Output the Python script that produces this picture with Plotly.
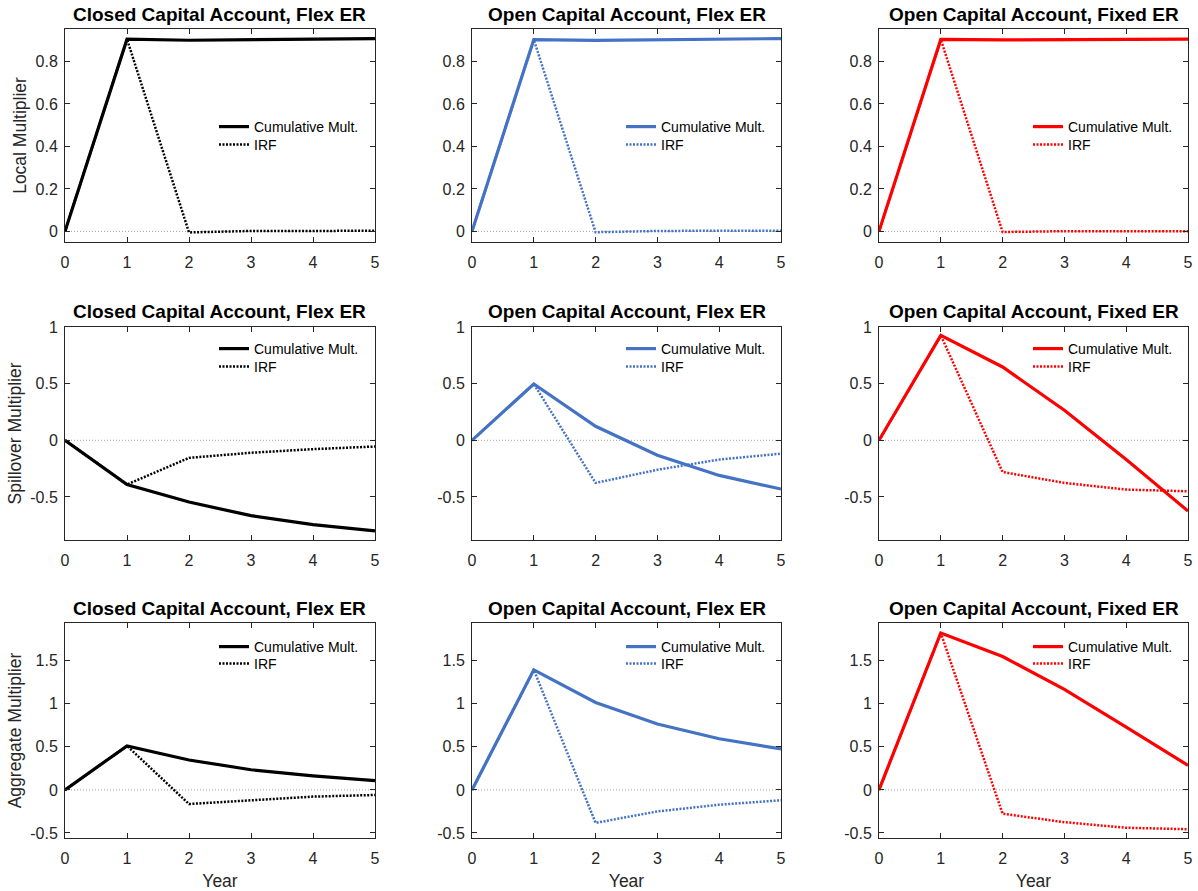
import plotly.graph_objects as go

years = [0, 1, 2, 3, 4, 5]

col_titles = ["Closed Capital Account, Flex ER",
              "Open Capital Account, Flex ER",
              "Open Capital Account, Fixed ER"]
row_labels = ["Local Multiplier", "Spillover Multiplier", "Aggregate Multiplier"]

local_closed_cum = [0, 0.905, 0.900, 0.903, 0.905, 0.908]
local_closed_irf = [0, 0.905, -0.005, 0.002, 0.002, 0.003]
local_flex_cum = [0, 0.903, 0.899, 0.901, 0.904, 0.908]
local_flex_irf = [0, 0.903, -0.004, 0.002, 0.003, 0.003]
local_fixed_cum = [0, 0.904, 0.902, 0.903, 0.904, 0.905]
local_fixed_irf = [0, 0.904, -0.003, 0.001, 0.001, 0.001]

spill_closed_cum = [0, -0.39, -0.545, -0.665, -0.745, -0.80]
spill_closed_irf = [0, -0.39, -0.155, -0.11, -0.078, -0.055]
spill_flex_cum = [0, 0.497, 0.124, -0.132, -0.31, -0.43]
spill_flex_irf = [0, 0.497, -0.376, -0.26, -0.17, -0.118]
spill_fixed_cum = [0, 0.926, 0.647, 0.265, -0.17, -0.624]
spill_fixed_irf = [0, 0.926, -0.28, -0.376, -0.435, -0.45]

agg_closed_cum = [0, 0.512, 0.348, 0.234, 0.164, 0.109]
agg_closed_irf = [0, 0.512, -0.164, -0.117, -0.078, -0.059]
agg_flex_cum = [0, 1.395, 1.016, 0.766, 0.594, 0.477]
agg_flex_irf = [0, 1.395, -0.383, -0.25, -0.172, -0.121]
agg_fixed_cum = [0, 1.824, 1.55, 1.168, 0.73, 0.285]
agg_fixed_irf = [0, 1.824, -0.277, -0.375, -0.44, -0.457]

cum_data = [[local_closed_cum, local_flex_cum, local_fixed_cum],
            [spill_closed_cum, spill_flex_cum, spill_fixed_cum],
            [agg_closed_cum, agg_flex_cum, agg_fixed_cum]]
irf_data = [[local_closed_irf, local_flex_irf, local_fixed_irf],
            [spill_closed_irf, spill_flex_irf, spill_fixed_irf],
            [agg_closed_irf, agg_flex_irf, agg_fixed_irf]]

row_yticks = [[0, 0.2, 0.4, 0.6, 0.8], [-0.5, 0, 0.5, 1], [-0.5, 0, 0.5, 1, 1.5]]
row_ytext = [["0", "0.2", "0.4", "0.6", "0.8"], ["-0.5", "0", "0.5", "1"],
             ["-0.5", "0", "0.5", "1", "1.5"]]
row_yrange = [[-0.05, 0.953], [-0.88, 1.0], [-0.559, 1.94]]

colors = ["#000000", "#4472C4", "#FF0000"]

W, H = 1198, 891
col_px = [(65, 375), (472, 781), (879, 1188)]
row_px = [(29, 242), (327, 540), (623, 838)]
legend_cy = [(127, 145), (349, 367), (647, 664)]

AX = "#262626"
FONT = "Liberation Sans, Arial, sans-serif"

fig = go.Figure()
layout = dict(width=W, height=H, margin=dict(l=0, r=0, t=0, b=0, autoexpand=False),
              paper_bgcolor="white", plot_bgcolor="white", showlegend=True,
              font=dict(family=FONT, color=AX))
annotations = []

for r in range(3):
    for c in range(3):
        k = r * 3 + c + 1
        xa = "x" if k == 1 else f"x{k}"
        ya = "y" if k == 1 else f"y{k}"
        lg1 = "legend" if k == 1 else f"legend{2 * k - 1}"
        lg2 = f"legend{2 * k}"
        # zero reference line
        fig.add_trace(go.Scatter(x=[years[0], years[-1]], y=[0, 0], mode="lines",
                                 line=dict(color="#a0a0a0", width=1, dash="1px,2px"),
                                 xaxis=xa, yaxis=ya, showlegend=False, hoverinfo="skip"))
        fig.add_trace(go.Scatter(x=years, y=cum_data[r][c], mode="lines",
                                 name="Cumulative Mult.",
                                 line=dict(color=colors[c], width=3.2),
                                 xaxis=xa, yaxis=ya, legend=lg1))
        fig.add_trace(go.Scatter(x=years, y=irf_data[r][c], mode="lines",
                                 name="IRF",
                                 line=dict(color=colors[c], width=2.5, dash="2px,1.5px"),
                                 xaxis=xa, yaxis=ya, legend=lg2))
        x0, x1 = col_px[c]
        y0, y1 = row_px[r]
        xd = [x0 / W, x1 / W]
        yd = [1 - y1 / H, 1 - y0 / H]
        xkey = "xaxis" if k == 1 else f"xaxis{k}"
        ykey = "yaxis" if k == 1 else f"yaxis{k}"
        layout[xkey] = dict(domain=xd, anchor=ya, range=[0, 5], tickvals=years,
                            ticktext=[str(v) for v in years], automargin=False,
                            showline=True, linecolor=AX, linewidth=1, mirror="ticks",
                            ticks="inside", ticklen=5, tickcolor=AX, showgrid=False,
                            zeroline=False, tickfont=dict(size=16, color=AX, family=FONT),
                            ticklabelstandoff=6, fixedrange=True)
        if r == 2:
            layout[xkey]["title"] = dict(text="Year", font=dict(size=17.5, color=AX, family=FONT),
                                         standoff=8)
        layout[ykey] = dict(domain=yd, anchor=xa, range=row_yrange[r],
                            tickvals=row_yticks[r], ticktext=row_ytext[r], automargin=False,
                            showline=True, linecolor=AX, linewidth=1, mirror="ticks",
                            ticks="inside", ticklen=5, tickcolor=AX, showgrid=False,
                            zeroline=False, tickfont=dict(size=16, color=AX, family=FONT),
                            ticklabelstandoff=3, fixedrange=True)
        if c == 0:
            layout[ykey]["title"] = dict(text=row_labels[r],
                                         font=dict(size=17.5, color=AX, family=FONT),
                                         standoff=4)
        for lg, cy in ((lg1, legend_cy[r][0]), (lg2, legend_cy[r][1])):
            layout[lg] = dict(x=(x0 + 149) / W, y=1 - cy / H,
                              xanchor="left", yanchor="middle", bgcolor="rgba(0,0,0,0)",
                              borderwidth=0, font=dict(size=14, color="#000000", family=FONT),
                              tracegroupgap=0, itemwidth=30)
        annotations.append(dict(text=f"<b>{col_titles[c]}</b>", x=(x0 + x1) / 2 / W,
                                y=1 - (y0 - 15) / H, xref="paper", yref="paper",
                                xanchor="center", yanchor="middle", showarrow=False,
                                font=dict(size=19, color="#000000", family=FONT)))

layout["annotations"] = annotations
fig.update_layout(**layout)
fig.write_html("out.html", config={"displayModeBar": False},
               post_script="document.body.style.margin='0px';document.body.style.overflow='hidden';")
